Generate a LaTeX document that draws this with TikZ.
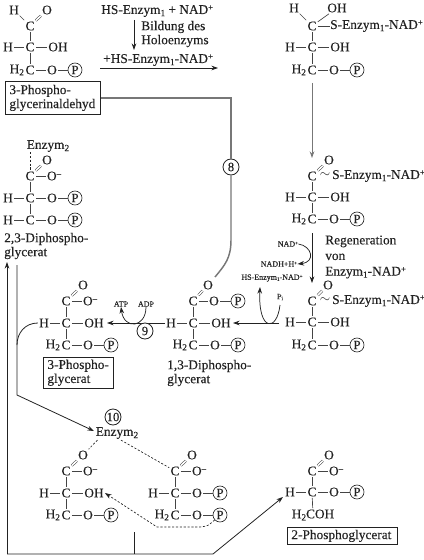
\documentclass[tikz,border=0pt]{standalone}
\usepackage{fontspec}
\setmainfont{Liberation Serif}[FakeBold=0.25]
\usetikzlibrary{arrows.meta}
\definecolor{ink}{HTML}{222222}
\definecolor{bondc}{HTML}{444444}
\definecolor{routec}{HTML}{777777}
\newcommand\sbs[1]{\raisebox{-0.35ex}{\fontsize{7}{8}\selectfont #1}}
\newcommand\sps[1]{\raisebox{0.6ex}{\fontsize{6.5}{8}\selectfont #1}}
\newcommand\smallsbs[1]{\raisebox{-0.3ex}{\fontsize{4}{5}\selectfont #1}}
\newcommand\smallsps[1]{\raisebox{0.5ex}{\fontsize{4}{5}\selectfont #1}}
\newcommand\Om{O\sps{–}}
\tikzset{
  atom/.style={inner sep=0.8pt,text=ink,font=\fontsize{10}{12}\selectfont},
  lab/.style={inner sep=0pt,anchor=west,align=left,text=ink,font=\fontsize{10}{10.5}\selectfont},
  tiny/.style={inner sep=0pt,text=ink,font=\fontsize{6}{7}\selectfont},
  wave/.style={inner sep=0pt,text=ink,font=\fontsize{10}{10}\selectfont},
  phos/.style={draw=ink,circle,line width=0.5pt,inner sep=0pt,minimum size=10.5pt,text=ink,font=\fontsize{9.5}{10}\selectfont},
  num/.style={draw=ink,circle,line width=0.6pt,inner sep=0pt,minimum size=12pt,fill=white,text=ink,font=\fontsize{9.5}{10}\selectfont},
  boxed/.style={draw=ink,line width=0.6pt,anchor=north west,align=left,inner xsep=3pt,inner ysep=1pt,text=ink,font=\fontsize{10}{10.5}\selectfont},
  bond/.style={draw=bondc,line width=0.5pt},
  dbl/.style={draw=bondc,line width=0.4pt,double,double distance=1.1pt},
  flow/.style={draw=ink,line width=0.55pt,-{Stealth[length=5pt,width=3.5pt]}},
  rail/.style={draw=ink,line width=0.6pt},
  greyflow/.style={draw=routec,line width=0.7pt,-{Stealth[length=5pt,width=3.5pt]}},
  route/.style={draw=routec,line width=1.1pt},
  dashline/.style={draw=ink,line width=0.5pt,dash pattern=on 1.6pt off 1.3pt},
}
% row helpers: prefix, x of the carbon, y of the row
\newcommand\Node[5][atom]{\node[#1] (#2) at (#3,#4) {#5};}
\newcommand\topCOO[3]{%
  \Node{#1c}{#2}{#3}{C}
  \Node{#1o}{\the\numexpr#2+17\relax}{\the\numexpr#3-16\relax}{O}
  \Node{#1om}{\the\numexpr#2+24\relax}{#3}{\Om}
  \draw[dbl] (#1c) -- (#1o);
  \draw[bond] (#1c) -- (#1om);}
\newcommand\rowHCOH[3]{%
  \Node{#1h}{\the\numexpr#2-22\relax}{#3}{H}
  \Node{#1c}{#2}{#3}{C}
  \Node{#1oh}{\the\numexpr#2+28\relax}{#3}{OH}
  \draw[bond] (#1h) -- (#1c);
  \draw[bond] (#1c) -- (#1oh);}
\newcommand\rowCOP[3]{%
  \Node{#1o}{\the\numexpr#2+22\relax}{#3}{O}
  \Node[phos]{#1p}{\the\numexpr#2+45\relax}{#3}{P}
  \draw[bond] (#1c) -- (#1o);
  \draw[bond] (#1o) -- (#1p);}
\newcommand\rowHCOP[3]{%
  \Node{#1h}{\the\numexpr#2-22\relax}{#3}{H}
  \Node{#1c}{#2}{#3}{C}
  \draw[bond] (#1h) -- (#1c);
  \rowCOP{#1}{#2}{#3}}
\newcommand\rowCHCOP[3]{%
  \Node{#1c}{#2}{#3}{C}
  \node[atom,anchor=east,inner xsep=0pt] (#1hh) at (#1c.west) {H\sbs{2}};
  \rowCOP{#1}{#2}{#3}}
\begin{document}
\begin{tikzpicture}[x=0.75pt,y=-0.75pt]
\useasboundingbox (0,0) rectangle (424,560);

% 3-Phosphoglycerinaldehyd
\Node{ah}{14}{10}{H}
\Node{ac}{30}{26}{C}
\Node{ao}{47}{10}{O}
\draw[bond] (ah) -- (ac);
\draw[dbl] (ac) -- (ao);
\rowHCOH{a1}{30}{47}
\rowCHCOP{a2}{30}{70}
\draw[bond] (ac) -- (a1c);
\draw[bond] (a1c) -- (a2c);
\node[boxed,text width=65.25pt,minimum height=24.75pt] (boxa) at (5,81) {3-Phospho-\\glycerinaldehyd};

% Holoenzym step
\Node[lab]{he}{101}{11}{HS-Enzym\sbs{1} + NAD\sps{+}}
\Node[lab]{bild}{141}{27}{Bildung des}
\Node[lab]{holo}{141}{41}{Holoenzyms}
\Node[lab]{hn}{103}{60}{+HS-Enzym\sbs{1}-NAD\sps{+}}
\coordinate (hs) at (134,20);
\coordinate (ht) at (134,50);
\draw[flow] (hs) -- (ht);
\coordinate (ms) at (100,68);
\coordinate (mt) at (218,68);
\draw[flow] (ms) -- (mt);

% Thiohalbacetal
\Node{bh}{294}{8}{H}
\Node{bc}{312}{26}{C}
\Node{bo}{337}{8}{OH}
\Node[lab]{bs}{330}{26}{S-Enzym\sbs{1}-NAD\sps{+}}
\draw[bond] (bh) -- (bc);
\draw[bond] (bc) -- (bo);
\draw[bond] (bc) -- (bs);
\rowHCOH{b1}{312}{47}
\rowCHCOP{b2}{312}{70}
\draw[bond] (bc) -- (b1c);
\draw[bond] (b1c) -- (b2c);

\coordinate (b2e) at (312,83);
\coordinate (c0t) at (312,158);
\draw[greyflow] (b2e) -- (c0t);

% Thioester 1
\Node{c0c}{312}{176}{C}
\Node{c0o}{329}{160}{O}
\draw[dbl] (c0c) -- (c0o);
\Node[wave]{c0w}{325}{177}{\smash{$\sim$}}
\Node[lab]{c0s}{332}{176}{S-Enzym\sbs{1}-NAD\sps{+}}
\rowHCOH{c1}{312}{197}
\rowCHCOP{c2}{312}{219}
\draw[bond] (c0c) -- (c1c);
\draw[bond] (c1c) -- (c2c);

% Regeneration
\coordinate (c2e) at (312,233);
\coordinate (d0t) at (312,283);
\draw[flow] (c2e) -- (d0t);
\Node[lab]{reg}{325}{257}{Regeneration\\[1.2pt]von\\[1.2pt]Enzym\sbs{1}-NAD\sps{+}}
\Node[tiny]{nad}{288}{244}{NAD\smallsps{+}}
\Node[tiny]{nadh}{279}{264}{NADH+H\smallsps{+}}
\Node[tiny]{hsen}{272}{278}{HS-Enzym\smallsbs{1}-NAD\smallsps{+}}
\draw[flow] (nad.east) .. controls (312,246) and (316,262) .. (nadh.east);

% Thioester 2
\Node{d0c}{312}{301}{C}
\Node{d0o}{328}{285}{O}
\draw[dbl] (d0c) -- (d0o);
\Node[wave]{d0w}{325}{302}{\smash{$\sim$}}
\Node[lab]{d0s}{332}{301}{S-Enzym\sbs{1}-NAD\sps{+}}
\rowHCOH{d1}{312}{322}
\rowCHCOP{d2}{312}{345}
\draw[bond] (d0c) -- (d1c);
\draw[bond] (d1c) -- (d2c);

% 1,3-Diphosphoglycerat
\Node{e0c}{193}{301}{C}
\Node{e0o}{208}{285}{O}
\draw[dbl] (e0c) -- (e0o);
\Node{e0a}{214}{301}{O}
\Node[phos]{e0p}{238}{301}{P}
\draw[bond] (e0c) -- (e0a);
\draw[bond] (e0a) -- (e0p);
\rowHCOH{e1}{193}{323}
\rowCHCOP{e2}{193}{345}
\draw[bond] (e0c) -- (e1c);
\draw[bond] (e1c) -- (e2c);
\Node[lab]{elab}{167}{373}{1,3-Diphospho-\\glycerat}

% Dehydrogenase reaction
\coordinate (ds) at (279,323);
\coordinate (dt) at (233,323);
\draw[flow] (ds) -- (dt);
\Node[tiny]{pi}{280}{297}{P\smallsbs{i}}
\coordinate (pistart) at (280,305);
\coordinate (pitip) at (260,287);
\draw[flow] (pistart) .. controls (277,332) and (258,332) .. (pitip);

% GAPDH grey route with number 8
\node[num] (n8) at (231,167) {8};
\coordinate (g1) at (231,240);
\coordinate (g2) at (215,277);
\draw[route] (boxa.east) -| (n8.north);
\draw[route] (n8.south) -- (g1) .. controls (231,258) and (225,265) .. (g2);

% 3-Phosphoglycerat
\topCOO{f0}{66}{301}
\rowHCOH{f1}{66}{323}
\rowCHCOP{f2}{66}{345}
\draw[bond] (f0c) -- (f1c);
\draw[bond] (f1c) -- (f2c);
\node[boxed,text width=46.5pt,minimum height=23pt] (boxf) at (43,357) {3-Phospho-\\glycerat};

% Kinase reaction
\coordinate (ks) at (165,323);
\coordinate (kt) at (107,323);
\draw[flow] (ks) -- (kt);
\Node[tiny]{atp}{121}{304}{ATP}
\Node[tiny]{adp}{146}{304}{ADP}
\draw[flow] (adp.south) .. controls (146,328) and (124,330) .. (atp.south);
\node[num] (n9) at (145,331) {9};

% 2,3-Diphosphoglycerat
\Node{j0e}{48}{146}{Enzym\sbs{2}}
\topCOO{j0}{30}{176}
\rowHCOP{j1}{30}{198}
\rowHCOP{j2}{30}{220}
\draw[bond] (j0c) -- (j1c);
\draw[bond] (j1c) -- (j2c);
\coordinate (je) at (30,152);
\draw[dashline] (je) -- (j0c);
\Node[lab]{jlab}{4}{246}{2,3-Diphospho-\\glycerat}

% Rail to Enzym2
\node[atom] (ez) at (117,433) {Enzym\sbs{2}};
\node[num] (n10) at (113,417) {10};
\coordinate (rt) at (17,265);
\coordinate (rb) at (17,395);
\coordinate (ra) at (94,431);
\coordinate (rj) at (17,345);
\draw[rail,-{Stealth[length=5pt,width=3.5pt]}] (rt) -- (rb) -- (ra);
\draw[rail] (f1h) .. controls (25,323) and (17,333) .. (rj);

% Intermediates
\topCOO{g0}{66}{471}
\rowHCOH{g1r}{66}{493}
\rowCHCOP{g2r}{66}{515}
\draw[bond] (g0c) -- (g1rc);
\draw[bond] (g1rc) -- (g2rc);
\topCOO{h0}{175}{471}
\rowHCOP{h1}{175}{493}
\rowCHCOP{h2}{175}{515}
\draw[bond] (h0c) -- (h1c);
\draw[bond] (h1c) -- (h2c);
\draw[dashline] (ez.south west) ++(3,0) -- (g0o);
\draw[dashline] (ez.south) ++(4,0) -- (h0c);
\coordinate (da) at (200,527);
\coordinate (db) at (157,527);
\draw[dashline,-{Stealth[length=5pt,width=3.5pt]}] (h2p) .. controls (208,526) .. (da) -- (db) -- (g1roh.east);

% Bottom rails
\coordinate (bl) at (7,554);
\coordinate (lt) at (7,262);
\coordinate (br) at (213,554);
\coordinate (rr) at (283,497);
\coordinate (st) at (134,532);
\coordinate (sb) at (134,554);
\draw[rail,-{Stealth[length=5pt,width=3.5pt]}] (bl) -- (lt);
\draw[rail,-{Stealth[length=5pt,width=3.5pt]}] (bl) -- (br) -- (rr);
\draw[rail] (st) -- (sb);

% 2-Phosphoglycerat
\topCOO{i0}{312}{471}
\rowHCOP{i1}{312}{492}
\Node{i2}{313}{515}{H\sbs{2}COH}
\draw[bond] (i0c) -- (i1c);
\draw[bond] (i1c) -- (i2);
\node[boxed,text width=76.5pt,minimum height=12.75pt] (boxi) at (287,527) {2-Phosphoglycerat};
\end{tikzpicture}
\end{document}
